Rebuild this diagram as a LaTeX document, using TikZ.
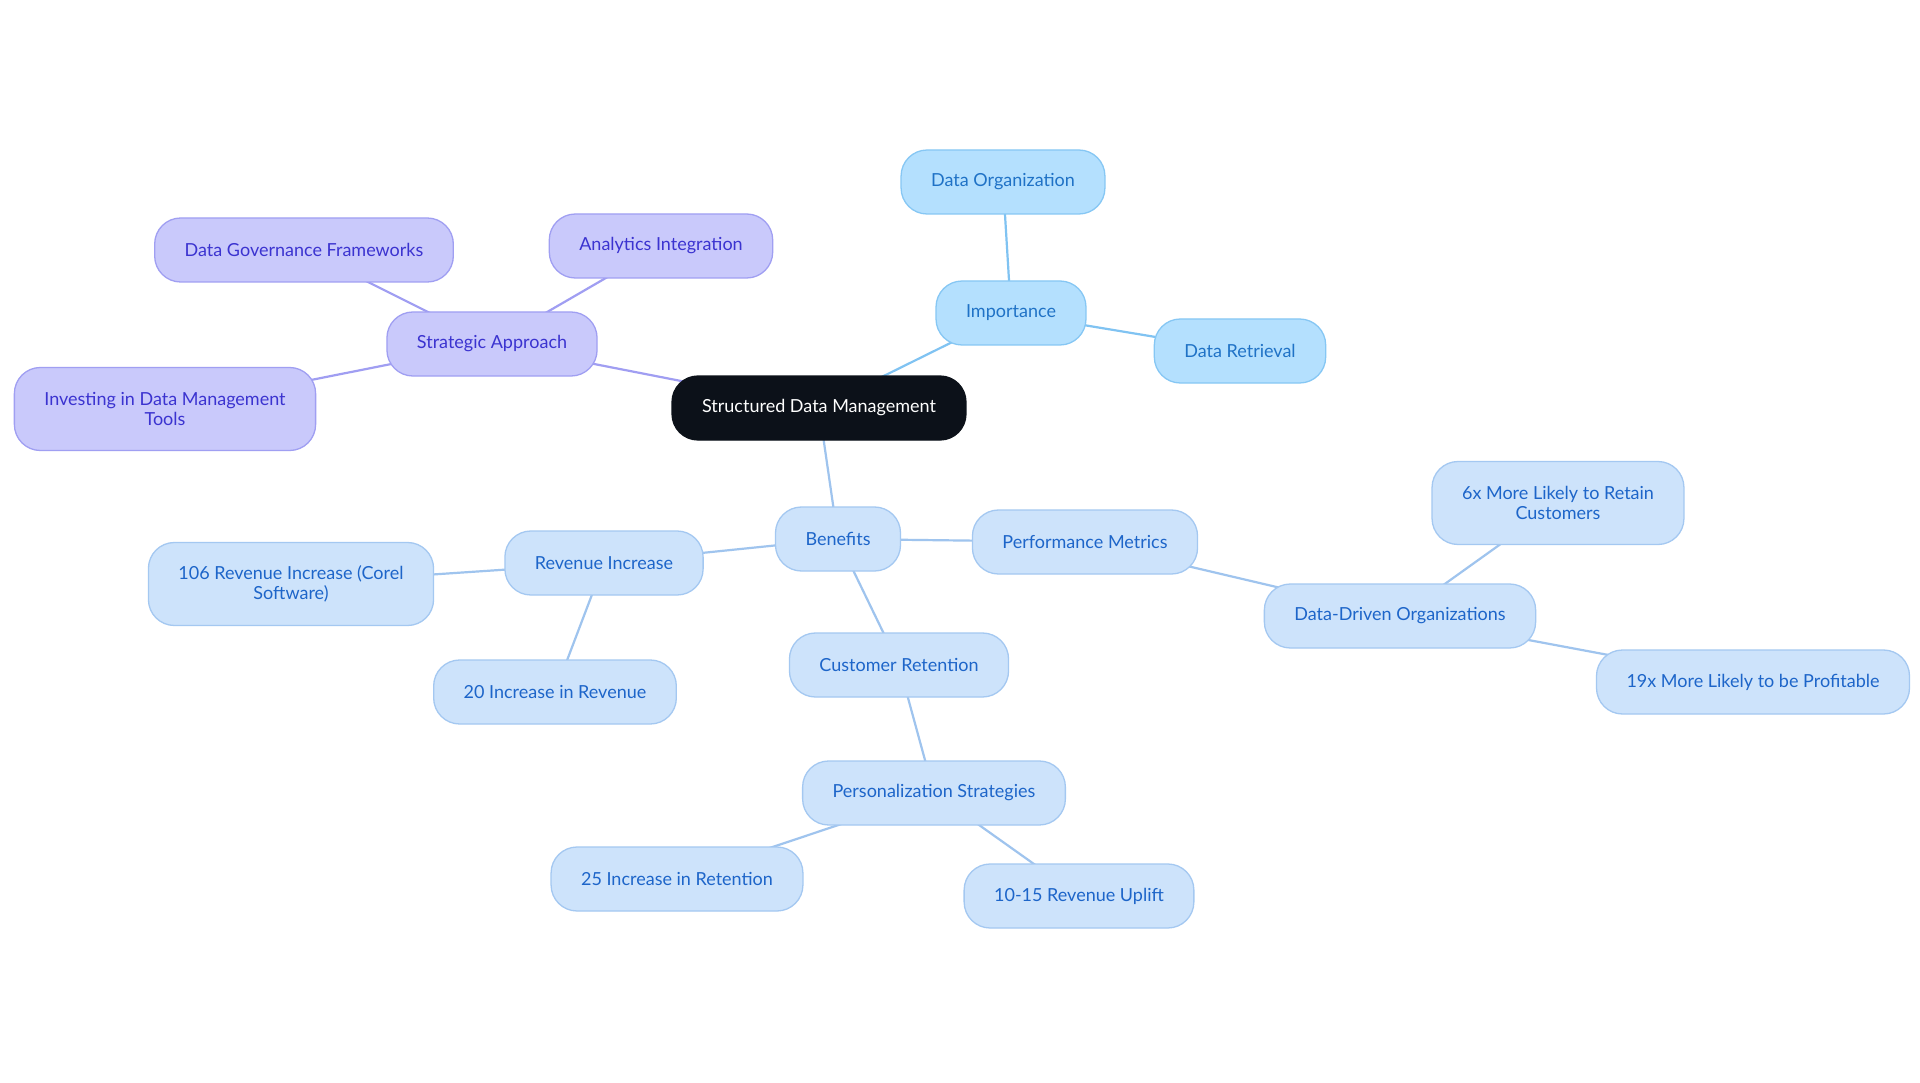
\documentclass[tikz,border=0pt]{standalone}
\usepackage{fontspec}
\setmainfont{Lato}
\usetikzlibrary{backgrounds}
\definecolor{rootfill}{HTML}{0C1119}
\definecolor{pfill}{HTML}{C9C9FB}
\definecolor{pdraw}{HTML}{A09FF2}
\definecolor{ptext}{HTML}{3B33D0}
\definecolor{pline}{HTML}{A09EF2}
\definecolor{sfill}{HTML}{B4E0FE}
\definecolor{sdraw}{HTML}{86C7F4}
\definecolor{stext}{HTML}{1F72C6}
\definecolor{sline}{HTML}{80C3F2}
\definecolor{bfill}{HTML}{CDE3FB}
\definecolor{bdraw}{HTML}{A4C8F1}
\definecolor{btext}{HTML}{1D65C9}
\definecolor{bline}{HTML}{9FC4EE}
\tikzset{
  basebox/.style={rounded corners=26pt, line width=1.3pt, align=center,
    inner xsep=30pt, inner ysep=0pt, minimum height=64pt,
    font=\fontsize{18}{20}\selectfont},
  twoline/.style={minimum height=83pt},
  rootbox/.style={basebox, fill=rootfill, draw=rootfill, text=white},
  purplebox/.style={basebox, fill=pfill, draw=pdraw, text=ptext},
  skybox/.style={basebox, fill=sfill, draw=sdraw, text=stext},
  bluebox/.style={basebox, fill=bfill, draw=bdraw, text=btext},
  pedge/.style={draw=pline, line width=2.2pt},
  sedge/.style={draw=sline, line width=2.2pt},
  bedge/.style={draw=bline, line width=2.2pt}
}
\begin{document}
\begin{tikzpicture}[x=1pt,y=-1pt]
\useasboundingbox (0,0) rectangle (1920,1083);
% root
\node[rootbox] (sdm) at (819,408) {Structured Data Management};
% importance branch
\node[skybox] (imp) at (1011,313) {Importance};
\node[skybox] (dorg) at (1003,182) {Data Organization};
\node[skybox] (dret) at (1240,351) {Data Retrieval};
% strategic branch
\node[purplebox] (strat) at (492,344) {Strategic Approach};
\node[purplebox] (dgov) at (304,250) {Data Governance Frameworks};
\node[purplebox] (anal) at (661,246) {Analytics Integration};
\node[purplebox, twoline] (inv) at (165,409) {Investing in Data Management\\Tools};
% benefits branch
\node[bluebox] (ben) at (838,539) {Benefits};
\node[bluebox] (perf) at (1085,542) {Performance Metrics};
\node[bluebox] (ddo) at (1400,616) {Data-Driven Organizations};
\node[bluebox, twoline] (six) at (1558,503) {6x More Likely to Retain\\Customers};
\node[bluebox] (nine) at (1753,682) {19x More Likely to be Profitable};
\node[bluebox] (rev) at (604,563) {Revenue Increase};
\node[bluebox, twoline] (corel) at (291,584) {106 Revenue Increase (Corel\\Software)};
\node[bluebox] (twenty) at (555,692) {20 Increase in Revenue};
\node[bluebox] (cust) at (899,665) {Customer Retention};
\node[bluebox] (pers) at (934,793) {Personalization Strategies};
\node[bluebox] (tfive) at (677,879) {25 Increase in Retention};
\node[bluebox] (uplift) at (1079,896) {10-15 Revenue Uplift};
\begin{pgfonlayer}{background}
\fill[white] (0,0) rectangle (1920,1083);
\draw[sedge] (sdm.center) -- (imp.center);
\draw[sedge] (imp.center) -- (dorg.center);
\draw[sedge] (imp.center) -- (dret.center);
\draw[pedge] (sdm.center) -- (strat.center);
\draw[pedge] (strat.center) -- (dgov.center);
\draw[pedge] (strat.center) -- (anal.center);
\draw[pedge] (strat.center) -- (inv.center);
\draw[bedge] (sdm.center) -- (ben.center);
\draw[bedge] (ben.center) -- (perf.center);
\draw[bedge] (perf.center) -- (ddo.center);
\draw[bedge] (ddo.center) -- (six.center);
\draw[bedge] (ddo.center) -- (nine.center);
\draw[bedge] (ben.center) -- (rev.center);
\draw[bedge] (rev.center) -- (corel.center);
\draw[bedge] (rev.center) -- (twenty.center);
\draw[bedge] (ben.center) -- (cust.center);
\draw[bedge] (cust.center) -- (pers.center);
\draw[bedge] (pers.center) -- (tfive.center);
\draw[bedge] (pers.center) -- (uplift.center);
\end{pgfonlayer}
\end{tikzpicture}
\end{document}
